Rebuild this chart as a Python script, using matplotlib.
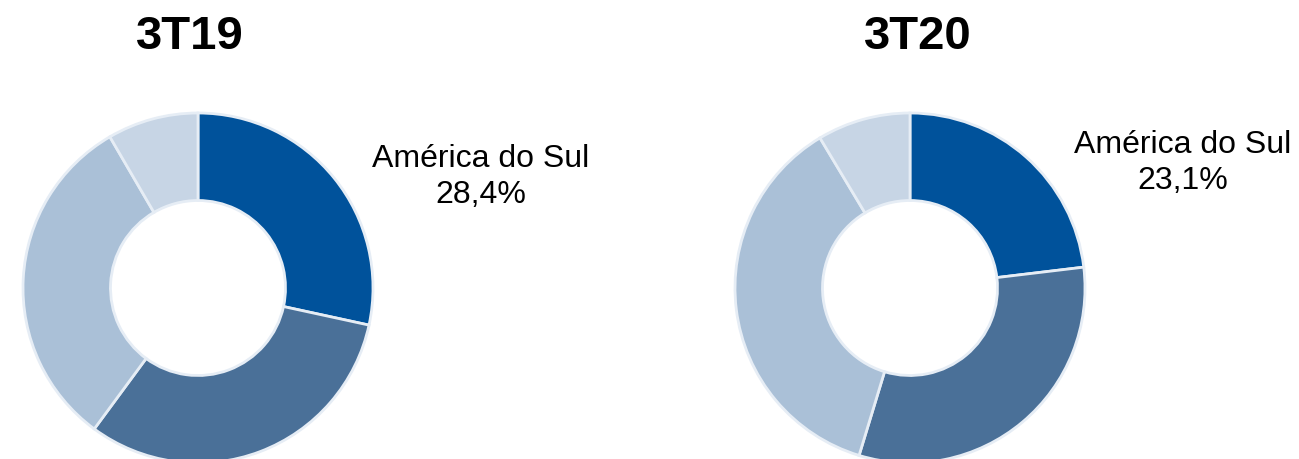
import matplotlib
matplotlib.use("Agg")
import matplotlib.pyplot as plt

titles = ["3T19", "3T20"]
regions = ["América do Sul", "Região 2", "Região 3", "Região 4"]
share_3t19 = [28.4, 31.7, 31.5, 8.4]
share_3t20 = [23.1, 31.6, 36.7, 8.6]
label_texts = ["América do Sul\n28,4%", "América do Sul\n23,1%"]

colors = ["#00529B", "#4A7098", "#AAC0D7", "#C7D5E5"]
edge = "#E6EDF5"

W, H = 1299, 460
fig = plt.figure(figsize=(W / 100, H / 100), dpi=100)
ax = fig.add_axes([0, 0, 1, 1])

centers = [(198, H - 289), (910, H - 289)]
radius = 175
title_pos = [(190, H - 37), (918, H - 37)]
label_pos = [(481, H - 177), (1183, H - 163)]

for vals, c, t, tp, lt, lp in zip([share_3t19, share_3t20], centers, titles,
                                   title_pos, label_texts, label_pos):
    ax.pie(vals, colors=colors, startangle=90, counterclock=False,
           center=c, radius=radius,
           wedgeprops=dict(width=radius * 0.5, edgecolor=edge, linewidth=2))
    ax.text(tp[0], tp[1], t, ha="center", va="center", fontsize=34,
            fontweight="bold", family="Liberation Sans")
    ax.text(lp[0], lp[1], lt, ha="center", va="center", fontsize=23,
            family="Liberation Sans", linespacing=1.3)

ax.set_xlim(0, W)
ax.set_ylim(0, H)
ax.set_aspect("equal")
ax.axis("off")
fig.savefig("out.png", dpi=100)
